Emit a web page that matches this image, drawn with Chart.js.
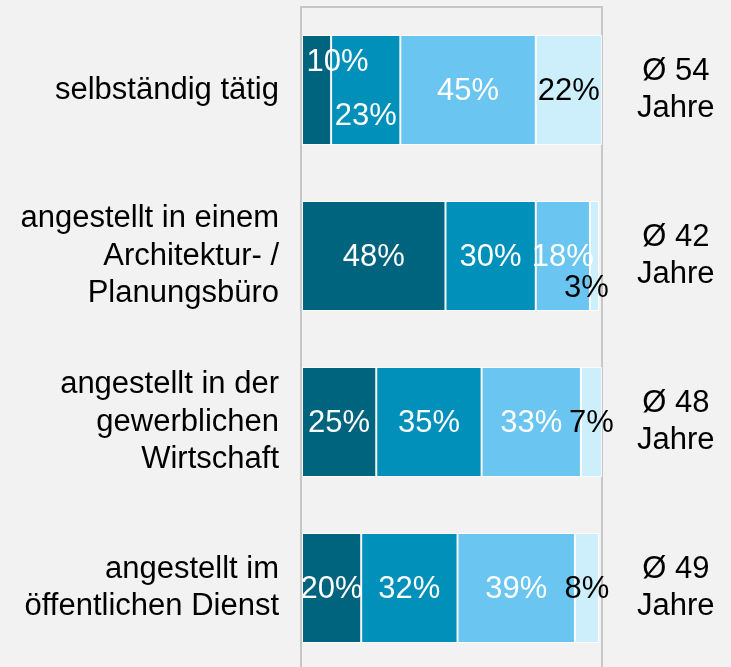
<!DOCTYPE html>
<html>
<head>
<meta charset="utf-8">
<script src="https://cdn.jsdelivr.net/npm/chart.js@4"></script>
<style>
    html, body {
        margin: 0;
        padding: 0;
        background: #F2F2F2;
        overflow: hidden;
    }
    #wrap {
        width: 731px;
        height: 671px;
    }
</style>
</head>
<body>
<div id="wrap"><canvas id="ageChart" width="731" height="671"></canvas></div>
<script>
/*==================================================
DATA
==================================================*/

const categories = [
    "selbständig tätig",
    ["angestellt in einem", "Architektur- /", "Planungsbüro"],
    ["angestellt in der", "gewerblichen", "Wirtschaft"],
    ["angestellt im", "öffentlichen Dienst"]
];

const averageAge = [54, 42, 48, 49];

const groupA = [10, 48, 25, 20];
const groupB = [23, 30, 35, 32];
const groupC = [45, 18, 33, 39];
const groupD = [22, 3, 7, 8];

/*==================================================
STYLE
==================================================*/

const FONT = "'Liberation Sans', Arial, sans-serif";
const colors = ["#00647F", "#0090B9", "#6AC5F0", "#CCEFFB"];
const labelColors = ["#FFFFFF", "#FFFFFF", "#FFFFFF", "#000000"];

// label nudges for crowded segments: "dataset-index": [dx, dy]
const labelNudge = {
    "0-0": [21, -29],
    "1-0": [0, 25],
    "3-1": [-8, 31]
};

/*==================================================
SEGMENT LABELS
==================================================*/

const segmentLabels = {
    id: "segmentLabels",
    afterDatasetsDraw(chart) {
        const ctx = chart.ctx;
        ctx.save();
        ctx.font = "31px " + FONT;
        ctx.textAlign = "center";
        ctx.textBaseline = "middle";
        chart.data.datasets.forEach((ds, di) => {
            const meta = chart.getDatasetMeta(di);
            meta.data.forEach((bar, i) => {
                const nudge = labelNudge[di + "-" + i] || [0, 0];
                const x = (bar.x + bar.base) / 2 + nudge[0];
                const y = bar.y + 1 + nudge[1];
                ctx.fillStyle = labelColors[di];
                ctx.fillText(ds.data[i] + "%", x, y);
            });
        });
        ctx.restore();
    }
};

// no overhang padding, the plot area is fixed by hand
function noPadding(scale) {
    scale.paddingTop = 0;
    scale.paddingBottom = 0;
    scale.paddingLeft = 0;
    scale.paddingRight = 0;
}

/*==================================================
CHART
==================================================*/

const series = [groupA, groupB, groupC, groupD];

new Chart(document.getElementById("ageChart"), {

    type: "bar",

    data: {
        labels: categories,
        datasets: series.map((values, k) => ({
            data: values,
            backgroundColor: colors[k],
            borderColor: "rgba(255,255,255,0.85)",
            borderWidth: 1,
            borderSkipped: false,
            categoryPercentage: 1,
            barPercentage: 0.663
        }))
    },

    options: {
        responsive: false,
        animation: false,
        indexAxis: "y",
        layout: {
            padding: { top: 7, left: 0, right: 0, bottom: 0 }
        },
        plugins: {
            legend: { display: false },
            tooltip: { enabled: false }
        },
        scales: {
            x: {
                position: "top",
                stacked: true,
                min: 0,
                max: 100,
                ticks: { display: false, stepSize: 100 },
                grid: {
                    color: "#C6C6C6",
                    lineWidth: 2,
                    drawTicks: false
                },
                border: { display: true, color: "#C6C6C6", width: 2 },
                afterFit(scale) {
                    noPadding(scale);
                    scale.height = 0;
                }
            },
            y: {
                stacked: true,
                position: "left",
                grid: { display: false, drawTicks: false },
                border: { display: false },
                ticks: {
                    color: "#000000",
                    padding: 22,
                    font: { family: FONT, size: 31, lineHeight: 1.2 }
                },
                afterFit(scale) {
                    noPadding(scale);
                    scale.width = 301;
                }
            },
            y2: {
                type: "category",
                position: "right",
                grid: { display: false, drawTicks: false },
                border: { display: false },
                ticks: {
                    color: "#000000",
                    padding: 35,
                    crossAlign: "center",
                    font: { family: FONT, size: 31, lineHeight: 1.2 },
                    callback: (value, index) => ["Ø " + averageAge[index], "Jahre"]
                },
                afterFit(scale) {
                    noPadding(scale);
                    scale.width = 129;
                }
            }
        }
    },

    plugins: [segmentLabels]

});
</script>
</body>
</html>
